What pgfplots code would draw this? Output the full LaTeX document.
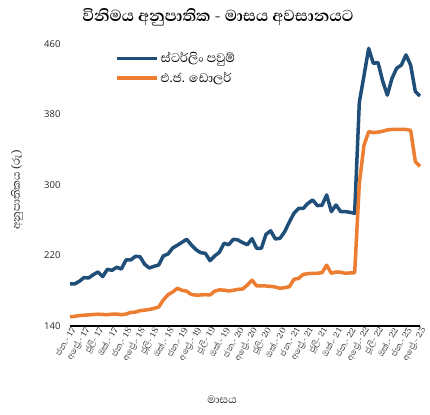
\documentclass[border=0pt]{standalone}
\usepackage{fontspec}
\setmainfont{Open Sans}
\newfontfamily\sinhala[Script=Sinhala, Scale=1.45]{Abhaya Libre}
\usepackage{pgfplots}
\usepackage{pgfplotstable}
\pgfplotsset{compat=1.18}
\definecolor{gbp}{HTML}{1F4E79}
\definecolor{usd}{HTML}{ED7D31}

\pgfplotstableread{
m gbp usd
0 187.7 150.5
1 187.7 151.0
2 190.7 151.8
3 194.9 152.3
4 194.5 152.6
5 198.3 153.0
6 201.3 153.4
7 196.0 153.1
8 204.3 152.8
9 203.2 153.4
10 206.6 153.6
11 204.7 152.8
12 214.9 153.5
13 214.9 155.4
14 219.0 155.7
15 218.7 157.4
16 210.0 158.0
17 205.8 158.7
18 207.7 160.0
19 209.2 161.5
20 219.5 169.5
21 221.7 175.5
22 228.5 178.5
23 231.6 182.8
24 235.0 180.5
25 238.4 179.5
26 232.0 175.8
27 226.6 175.0
28 223.2 175.2
29 222.5 175.6
30 214.2 175.2
31 219.5 179.5
32 223.6 181.0
33 233.8 180.7
34 232.3 179.8
35 238.4 180.5
36 237.6 181.6
37 234.6 182.0
38 232.3 186.5
39 239.1 192.0
40 228.2 185.5
41 228.2 185.4
42 244.0 185.4
43 248.0 185.0
44 238.8 184.2
45 239.5 182.8
46 247.0 183.5
47 258.0 184.6
48 268.0 193.0
49 273.5 194.1
50 273.6 198.6
51 279.2 199.4
52 283.0 199.8
53 276.6 199.8
54 277.0 200.5
55 288.7 209.0
56 269.8 199.8
57 277.3 201.3
58 269.8 201.0
59 269.8 199.8
60 269.0 200.2
61 267.9 200.5
62 394.0 302.0
63 424.0 345.0
64 455.0 360.5
65 438.0 359.5
66 439.0 360.0
67 418.0 361.0
68 402.0 362.5
69 421.0 363.0
70 432.5 363.0
71 436.0 363.0
72 447.6 363.0
73 436.0 362.0
74 406.0 326.5
75 401.0 321.0
}\ratedata

\begin{document}
\begin{tikzpicture}
\begin{axis}[
  scale only axis, width=350pt, height=282pt,
  xmin=0, xmax=75, ymin=140, ymax=460,
  axis x line*=bottom, axis y line*=left,
  y axis line style={draw=none},
  x axis line style={black, line width=1.2pt, -},
  ytick={140,220,300,380,460},
  xtick={0,3,...,75},
  xticklabels={
    ජන.- 17, අප්^^^^200dරේ.- 17, ජූලි- 17, ඔක්.- 17,
    ජන.- 18, අප්^^^^200dරේ.- 18, ජූලි- 18, ඔක්.- 18,
    ජන.- 19, අප්^^^^200dරේ.- 19, ජූලි- 19, ඔක්.- 19,
    ජන.- 20, අප්^^^^200dරේ.- 20, ජූලි- 20, ඔක්.- 20,
    ජන.- 21, අප්^^^^200dරේ.- 21, ජූලි- 21, ඔක්.- 21,
    ජන.- 22, අප්^^^^200dරේ.- 22, ජූලි- 22, ඔක්.- 22,
    ජන.- 23, අප්^^^^200dරේ.- 23},
  major tick length=0pt,
  tick style={draw=none},
  /pgf/number format/assume math mode=true,
  yticklabel style={font=\fontsize{9.5}{11}\selectfont, text=black!85, xshift=-6pt},
  xticklabel style={font=\sinhala\fontsize{7.5}{8}\selectfont, text=black!80, rotate=60, anchor=east, inner sep=0pt, yshift=-4pt},
  clip=false,
  legend cell align=left,
  legend style={at={(0.12,0.985)}, anchor=north west, draw=none, fill=none,
    font=\sinhala\fontsize{11}{13}\selectfont, row sep=4pt},
  legend image code/.code={\draw[#1] (0pt,0pt) -- (40pt,0pt);},
]
\addplot[gbp, line width=3.5pt, line join=round] table[x=m, y=gbp] {\ratedata};
\addlegendentry{ස්ටර්ලිං පවුම්}
\addplot[usd, line width=3.5pt, line join=round] table[x=m, y=usd] {\ratedata};
\addlegendentry{එ.ජ. ඩොලර්}
\end{axis}
\node[font=\sinhala\bfseries\fontsize{14}{17}\selectfont] at (148pt,309pt) {විනිමය අනුපාතික - මාසය අවසානයට};
\node[font=\sinhala\fontsize{9.5}{12}\selectfont, text=black!85, rotate=90] at (-53pt,136pt) {අනුපාතිකය (රු)};
\node[font=\sinhala\fontsize{9.5}{12}\selectfont, text=black!85] at (152pt,-74pt) {මාසය};
\pgfresetboundingbox
\useasboundingbox (-70pt,-88pt) rectangle (360pt,326pt);
\end{tikzpicture}
\end{document}
